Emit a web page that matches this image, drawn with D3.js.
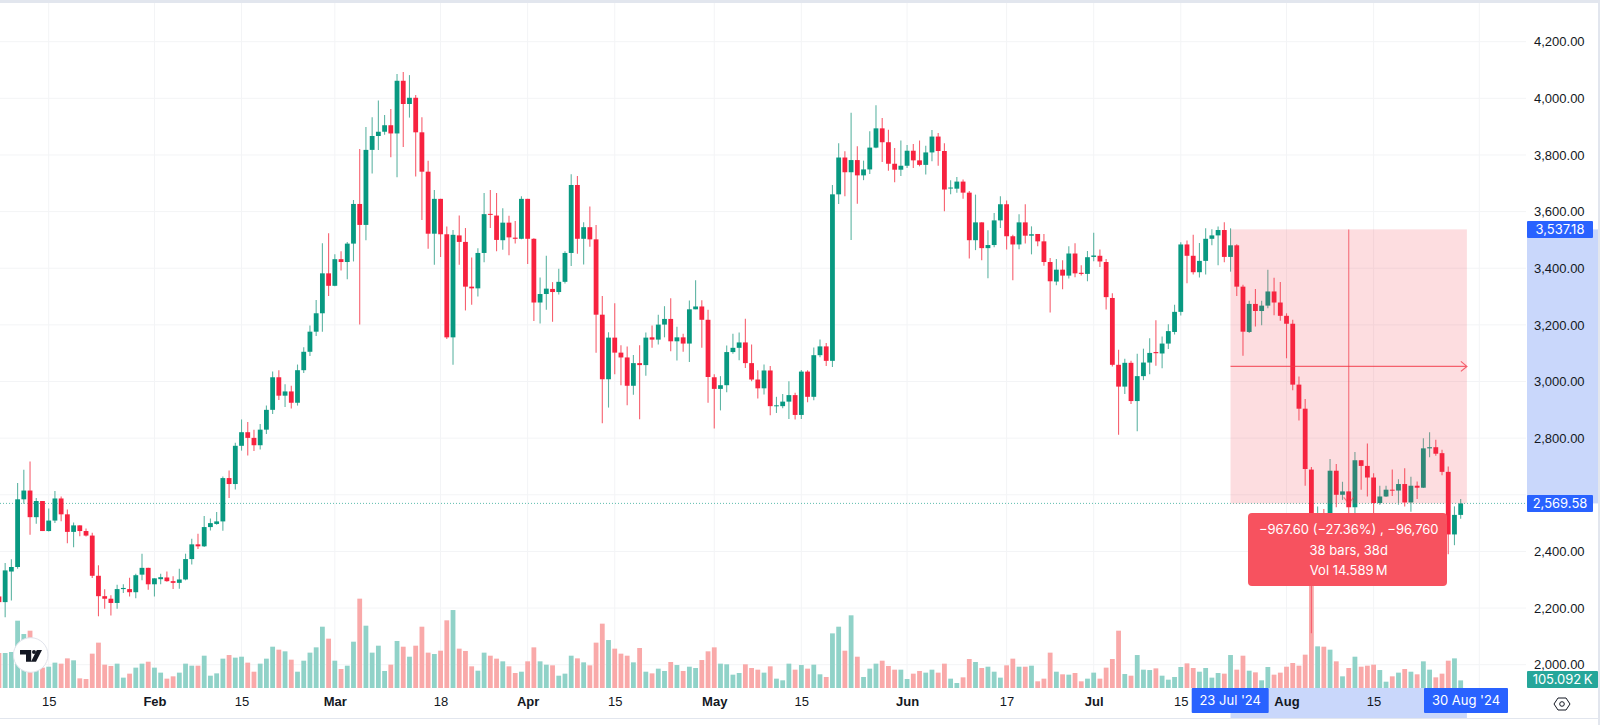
<!DOCTYPE html>
<html>
<head>
<meta charset="utf-8">
<script src="https://cdn.jsdelivr.net/npm/d3@7"></script>
<style>
    html, body { margin: 0; padding: 0; background: #fff; overflow: hidden; }
    svg { display: block; font-family: Inter, "Liberation Sans", sans-serif; }
    .price-axis text { font-size: 13px; fill: #131722; }
    .time-axis text { font-size: 13px; fill: #131722; }
    .time-axis .month text { font-weight: 600; }
    .axis-badge { font-size: 13px; fill: #fff; text-anchor: middle; }
    .tip { font-size: 13px; fill: #fff; text-anchor: middle; }
</style>
</head>
<body>
<div id="container"><svg></svg></div>
<script>
let width = 1600;
let height = 725;

// one row per month, Jan 7 to Aug 29 2024
let opens = [
    2241,2221,2329,2345,2584,2615,2521,2578,2472,2509,2587,2531,2469,2492,2472,2456,2314,2242,2233,2218,2267,2267,2256,2318,2342,
    2284,2302,2308,2295,2289,2301,2373,2425,2418,2486,2497,2506,2659,2638,2773,2821,2801,2775,2830,2900,3015,2950,2965,2925,3040,3105,3176,3241,3382,
    3338,3432,3422,3487,3627,3553,3818,3867,3882,3905,3876,4062,3980,4002,3880,3741,3522,3645,3520,3156,3516,3493,3335,3329,3454,3592,3586,3499,3561,3508,3504,
    3645,3504,3279,3309,3327,3316,3352,3454,3694,3504,3545,3502,3236,3008,3155,3102,3085,2985,3065,3058,3156,3148,3201,3221,3142,3156,3134,3255,3265,3218,
    3015,2974,2987,3104,3119,3138,3065,3007,2976,3039,2913,2913,2929,2952,2882,3035,2946,3093,3124,3073,3661,3791,3739,3782,3728,3749,3826,3894,3845,3769,3748,
    3762,3815,3781,3765,3809,3865,3814,3682,3681,3706,3667,3499,3562,3471,3482,3569,3626,3513,3484,3562,3515,3521,3495,3422,3353,3395,3374,3452,3384,3380,
    3440,3444,3422,3295,3059,2982,3066,2931,3019,3067,3104,3099,3134,3175,3246,3484,3444,3386,3426,3504,3516,3535,3440,3481,3335,3175,3274,3249,3268,3318,3279,
    3232,3204,2989,2904,2689,2419,2461,2340,2685,2600,2612,2556,2722,2702,2661,2571,2594,2618,2615,2638,2573,2632,2625,2764,2768,2747,2681,2460,2529
];
let highs = [
    2250,2359,2372,2642,2688,2718,2589,2578,2552,2613,2594,2548,2502,2492,2481,2466,2351,2266,2245,2282,2284,2307,2321,2392,2342,
    2305,2321,2329,2312,2339,2392,2445,2462,2525,2516,2539,2665,2686,2784,2866,2857,2830,2850,2915,3035,3040,2990,2985,3060,3121,3198,3288,3488,3524,
    3449,3460,3493,3641,3821,3899,3933,3992,3941,3962,4086,4093,4082,4012,3933,3780,3676,3645,3547,3535,3586,3542,3438,3471,3666,3676,3666,3612,3585,3567,3654,
    3645,3506,3367,3444,3351,3398,3460,3732,3726,3562,3618,3553,3302,3174,3276,3128,3124,3094,3128,3173,3198,3236,3266,3294,3193,3169,3286,3358,3287,3253,
    3026,3019,3127,3169,3173,3222,3131,3040,3060,3055,2946,2956,3001,2960,3041,3040,3120,3148,3136,3694,3841,3813,3949,3831,3780,3884,3976,3931,3889,3825,3851,
    3835,3839,3851,3833,3888,3878,3841,3711,3722,3713,3673,3660,3562,3534,3595,3654,3639,3518,3591,3626,3548,3521,3521,3436,3433,3428,3478,3488,3411,3461,
    3525,3466,3433,3312,3112,3080,3073,3098,3116,3153,3216,3159,3202,3271,3492,3498,3518,3489,3541,3538,3547,3562,3541,3485,3342,3285,3327,3285,3395,3366,3351,
    3241,3218,3018,2938,2698,2559,2550,2726,2709,2646,2612,2751,2722,2781,2676,2632,2632,2689,2655,2694,2664,2647,2800,2821,2794,2759,2700,2559,2585
];
let lows = [
    2200,2168,2227,2339,2568,2459,2498,2472,2470,2500,2507,2429,2415,2454,2453,2306,2171,2198,2174,2198,2253,2241,2235,2298,2265,
    2241,2284,2293,2267,2268,2298,2354,2409,2416,2474,2494,2473,2589,2619,2756,2739,2755,2760,2815,2885,2935,2910,2905,2915,3030,3090,3161,3176,3302,
    3336,3392,3361,3424,3201,3499,3735,3818,3871,3792,3721,3828,3932,3724,3570,3469,3412,3440,3150,3059,3412,3251,3271,3300,3421,3542,3460,3465,3446,3487,3502,
    3415,3214,3205,3253,3211,3307,3346,3408,3451,3413,3476,3102,2853,2908,3026,2987,2916,2953,2867,3020,3119,3131,3156,3107,3074,3105,3069,3255,3119,2925,
    2834,2898,2962,3098,3075,3048,3001,2940,2954,2881,2889,2906,2868,2866,2868,2927,2934,3086,3055,3051,3627,3654,3500,3628,3711,3733,3824,3775,3744,3704,3726,
    3754,3754,3760,3731,3778,3762,3601,3661,3667,3645,3434,3464,3428,3365,3474,3542,3466,3358,3467,3487,3449,3478,3409,3244,3340,3326,3364,3368,3374,3354,
    3425,3404,3254,3053,2812,2956,2921,2824,3005,3026,3056,3047,3115,3166,3233,3347,3378,3367,3378,3481,3411,3421,3388,3302,3091,3171,3194,3199,3259,3234,3215,
    3082,2969,2862,2632,2111,2400,2310,2320,2556,2582,2520,2535,2618,2594,2520,2565,2592,2596,2565,2559,2540,2585,2624,2733,2738,2669,2390,2422,2515
];
let closes = [
    2221,2333,2345,2584,2615,2521,2578,2472,2509,2587,2531,2469,2492,2472,2456,2314,2242,2233,2218,2267,2271,2256,2316,2342,2284,
    2305,2309,2295,2289,2301,2373,2425,2418,2486,2500,2506,2659,2638,2773,2821,2801,2775,2830,2900,3015,2950,2965,2925,3040,3105,3176,3241,3382,3338,
    3432,3422,3487,3627,3553,3818,3867,3882,3905,3876,4062,3980,4002,3880,3741,3522,3645,3520,3156,3518,3493,3335,3329,3454,3591,3589,3500,3561,3509,3504,3645,
    3504,3279,3309,3328,3316,3352,3454,3694,3504,3545,3502,3236,3008,3155,3102,3085,2985,3065,3058,3155,3148,3201,3221,3142,3156,3134,3255,3265,3218,3016,
    2974,2987,3104,3119,3138,3065,3007,2976,3039,2913,2916,2929,2952,2882,3035,2946,3093,3124,3073,3661,3791,3739,3782,3728,3749,3826,3894,3845,3769,3748,3762,
    3815,3781,3765,3809,3865,3814,3678,3685,3706,3667,3499,3562,3471,3482,3569,3626,3513,3484,3562,3515,3520,3495,3422,3354,3395,3374,3452,3382,3380,3439,
    3445,3424,3298,3059,2982,3066,2931,3019,3067,3101,3100,3134,3178,3246,3484,3444,3386,3426,3504,3516,3535,3440,3481,3335,3176,3274,3249,3268,3318,3279,3232,
    3204,2989,2904,2691,2419,2461,2340,2685,2600,2612,2556,2722,2702,2661,2571,2594,2618,2615,2638,2573,2632,2625,2764,2768,2745,2681,2460,2529,2569.58
];
// volume in thousands
let volumes = [
    483,483,497,929,745,791,391,281,294,350,336,409,382,133,124,474,626,322,304,336,143,198,281,336,363,
    281,212,129,161,212,336,308,308,446,170,202,405,455,419,432,350,225,336,405,570,529,506,391,225,377,488,561,846,681,
    377,262,308,639,1233,860,488,584,235,322,649,570,432,584,846,488,469,515,934,1076,543,511,299,239,488,446,405,368,299,207,225,
    368,561,368,322,313,170,198,446,409,354,313,626,888,662,543,474,446,354,552,225,202,267,235,359,317,235,294,276,386,506,
    561,336,327,184,207,327,276,253,212,299,129,106,336,253,317,267,322,189,152,754,846,515,1003,432,152,267,336,377,304,253,253,
    124,198,235,212,253,212,336,129,69,147,400,359,276,294,225,143,313,405,294,294,308,92,129,488,225,189,184,207,92,129,
    212,129,281,400,791,193,170,455,253,248,271,170,115,152,290,340,276,225,276,143,207,198,455,253,446,239,216,106,290,184,212,
    294,345,308,460,1564,575,570,529,368,161,276,432,294,308,322,248,87,161,212,262,225,189,368,253,147,198,377,409,105.092
];

let priceTicks = [2000,2200,2400,2600,2800,3000,3200,3400,3600,3800,4000,4200];
// 2,600 sits under the last price badge, so it gets a grid line but no label
let priceLabels = [2000,2200,2400,2800,3000,3200,3400,3600,3800,4000,4200];
let timeTicks = ['2024-01-15','2024-02-01','2024-02-15','2024-03-01','2024-03-18','2024-04-01','2024-04-15','2024-05-01','2024-05-15','2024-06-01','2024-06-17','2024-07-01','2024-07-15','2024-08-01','2024-08-15','2024-09-01'];
let timeTickLabels = ['15','Feb','15','Mar','18','Apr','15','May','15','Jun','17','Jul','15','Aug','15',''];

let measureStart = '2024-07-23', measureEnd = '2024-08-30';
let measureTop = 3537.18, lastClose = 2569.58;
let tipLines = ['\u2212967.60 (\u221227.36%) , \u221296,760', '38 bars, 38d', 'Vol 14.589\u2009M'];

let upColor = '#089981', downColor = '#f7223f';
let upWick = '#5fb5a4', downWick = '#f7606f';
let upVol = '#90d2c8', downVol = '#f9a9a9';
let gridColor = '#f3f4f6';
let blue = '#2962ff', paleBlue = '#c9d7fb';

let day = s => new Date(s + 'T00:00:00Z');
let dates = d3.utcDay.range(day('2024-01-07'), day('2024-08-30'));
let candles = dates.map((d, i) => ({date: d, o: opens[i], h: highs[i], l: lows[i], c: closes[i], v: volumes[i]}));

let xScale = d3.scaleUtc().domain([day('2024-01-15'), day('2024-08-30')]).range([48.7, 1466.9]);
let yScale = d3.scaleLinear().domain([2000, 4200]).range([664.7, 41.7]);
let volScale = d3.scaleLinear().domain([0, 1000]).range([688, 615.54]);

let plotRight = 1526;
let svg = d3.select('#container').select('svg').attr('width', width).attr('height', height);

// frame
svg.append('rect').attr('width', width).attr('height', 3).attr('fill', '#e2e6ee');
svg.append('rect').attr('x', 1598).attr('width', 2).attr('height', height).attr('fill', '#e2e6ee');
svg.append('rect').attr('y', 718).attr('width', width).attr('height', 1).attr('fill', '#e2e6ee');

// grid
svg.append('g').selectAll('line').data(priceTicks).join('line')
    .attr('x1', 0).attr('x2', plotRight)
    .attr('y1', d => yScale(d)).attr('y2', d => yScale(d))
    .attr('stroke', gridColor).attr('stroke-width', 1);
svg.append('g').selectAll('line').data(timeTicks).join('line')
    .attr('x1', d => xScale(day(d))).attr('x2', d => xScale(day(d)))
    .attr('y1', 3).attr('y2', 688)
    .attr('stroke', gridColor).attr('stroke-width', 1);

// volume
svg.append('g').selectAll('rect').data(candles).join('rect')
    .attr('x', d => xScale(d.date) - 2.4)
    .attr('width', 4.8)
    .attr('y', d => volScale(d.v))
    .attr('height', d => volScale(0) - volScale(d.v))
    .attr('fill', d => d.c >= d.o ? upVol : downVol);

// last price line
svg.append('line')
    .attr('x1', 0).attr('x2', plotRight)
    .attr('y1', yScale(lastClose)).attr('y2', yScale(lastClose))
    .attr('stroke', upColor).attr('stroke-opacity', 0.65)
    .attr('stroke-dasharray', '1 2');

// candles
let candle = svg.append('g').selectAll('g').data(candles).join('g');
candle.append('line')
    .attr('x1', d => xScale(d.date)).attr('x2', d => xScale(d.date))
    .attr('y1', d => yScale(d.h)).attr('y2', d => yScale(d.l))
    .attr('stroke', d => d.c >= d.o ? upWick : downWick)
    .attr('stroke-width', 1.1);
candle.append('rect')
    .attr('x', d => xScale(d.date) - 2.4)
    .attr('width', 4.8)
    .attr('y', d => yScale(Math.max(d.o, d.c)))
    .attr('height', d => Math.max(1, Math.abs(yScale(d.o) - yScale(d.c))))
    .attr('fill', d => d.c >= d.o ? upColor : downColor);

// measure tool
let mx0 = xScale(day(measureStart)), mx1 = xScale(day(measureEnd));
let my0 = yScale(measureTop), my1 = yScale(lastClose);
let mxMid = (mx0 + mx1) / 2, myMid = (my0 + my1) / 2;
let measure = svg.append('g');
measure.append('rect')
    .attr('x', mx0).attr('y', my0)
    .attr('width', mx1 - mx0).attr('height', my1 - my0)
    .attr('fill', '#f23645').attr('fill-opacity', 0.17);
measure.append('path')
    .attr('d', `M${mx0},${myMid}H${mx1}M${mx1-6},${myMid-5}L${mx1},${myMid}L${mx1-6},${myMid+5}`)
    .attr('fill', 'none').attr('stroke', '#f23645').attr('stroke-opacity', 0.75).attr('stroke-width', 1.2);
measure.append('path')
    .attr('d', `M${mxMid},${my0}V${my1}M${mxMid-5},${my1-6}L${mxMid},${my1}L${mxMid+5},${my1-6}`)
    .attr('fill', 'none').attr('stroke', '#f23645').attr('stroke-opacity', 0.6).attr('stroke-width', 1.2);

let tip = svg.append('g');
tip.append('rect')
    .attr('x', 1248).attr('y', 513).attr('width', 199).attr('height', 73).attr('rx', 4)
    .attr('fill', '#f7525f');
tip.selectAll('text').data(tipLines).join('text')
    .attr('class', 'tip')
    .attr('x', mxMid)
    .attr('y', (d, i) => 533.7 + i * 20.8)
    .text(d => d);

// logo
let logo = svg.append('g');
logo.append('circle').attr('cx', 30.7).attr('cy', 655).attr('r', 17.3)
    .attr('fill', '#fff').attr('stroke', '#e0e3eb').attr('stroke-width', 1);
logo.append('path').attr('fill', '#131722')
    .attr('d', 'M20,650H31.2V661.7H26V654.6H20Z M36.8,650H42L36,661.7H31Z');
logo.append('circle').attr('cx', 34).attr('cy', 652).attr('r', 2).attr('fill', '#131722');

// price axis
svg.append('rect').attr('x', 1527).attr('y', my0).attr('width', 71).attr('height', my1 - my0).attr('fill', paleBlue);
svg.append('g')
    .attr('class', 'price-axis')
    .attr('transform', `translate(${plotRight},0)`)
    .call(d3.axisRight(yScale).tickValues(priceLabels).tickSize(0).tickPadding(8).tickFormat(d3.format(',.2f')))
    .call(g => g.select('.domain').remove());

// time axis
svg.append('rect').attr('x', mx0).attr('y', 688).attr('width', mx1 - mx0).attr('height', 30).attr('fill', paleBlue);
svg.append('g')
    .attr('class', 'time-axis')
    .attr('transform', 'translate(0,688)')
    .call(d3.axisBottom(xScale).tickValues(timeTicks.map(day)).tickSize(0).tickPadding(9)
        .tickFormat((d, i) => timeTickLabels[i]))
    .call(g => g.select('.domain').remove())
    .call(g => g.selectAll('.tick').classed('month', (d, i) => isNaN(+timeTickLabels[i])));

function badge(x, y, w, h, fill, label) {
    svg.append('rect').attr('x', x).attr('y', y).attr('width', w).attr('height', h).attr('rx', 1).attr('fill', fill);
    svg.append('text').attr('class', 'axis-badge').attr('x', x + w / 2).attr('y', y + h / 2 + 4.6).text(label);
}
badge(1527, my0 - 8.5, 66, 17, blue, d3.format(',.2f')(measureTop));
badge(1527, my1 - 8.5, 66, 17, blue, d3.format(',.2f')(lastClose));
badge(1527, 671, 71, 17, '#26a69a', '105.092\u2009K');
badge(1191.7, 688, 77, 25, blue, "23 Jul '24");
badge(1424, 688, 84, 25, blue, "30 Aug '24");

// settings icon
svg.append('path')
    .attr('d', 'M1558,698H1566L1570,704L1566,710H1558L1554,704Z')
    .attr('fill', 'none').attr('stroke', '#131722').attr('stroke-width', 1);
svg.append('circle').attr('cx', 1562).attr('cy', 704).attr('r', 2.3)
    .attr('fill', 'none').attr('stroke', '#131722').attr('stroke-width', 1);
</script>
</body>
</html>
